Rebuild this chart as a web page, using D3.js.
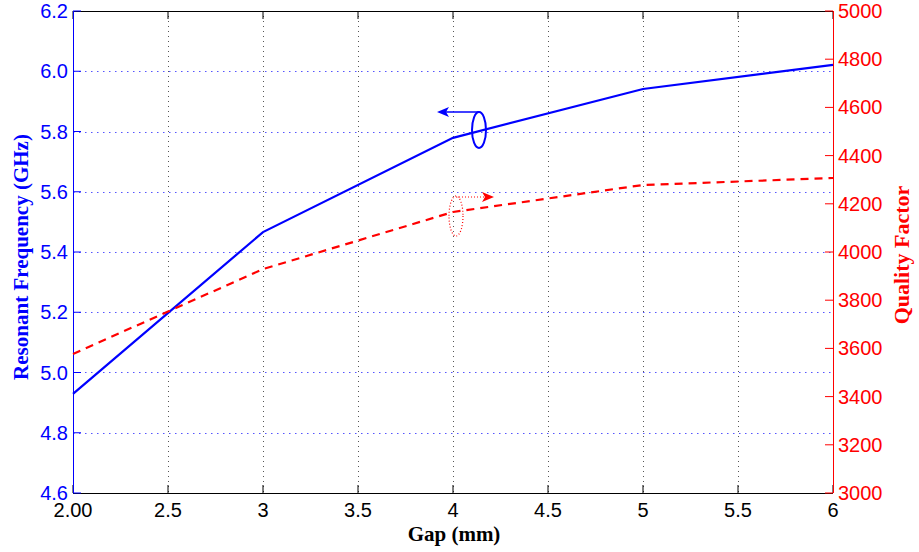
<!DOCTYPE html>
<html><head><meta charset="utf-8">
<script src="https://cdn.jsdelivr.net/npm/d3@7"></script>
<style>body{margin:0;background:#fff}svg{display:block}</style>
</head><body>
<svg id="c" width="919" height="552"></svg>
<script>
const gaps = [2, 3, 4, 5, 6];
const freq = [4.929, 5.466, 5.779, 5.941, 6.021];
const qf = [3577, 3929, 4166, 4278, 4307];
const xTicks = [2, 2.5, 3, 3.5, 4, 4.5, 5, 5.5, 6];
const xTickLabels = ["2.00", "2.5", "3", "3.5", "4", "4.5", "5", "5.5", "6"];
const yLeftTicks = [4.6, 4.8, 5.0, 5.2, 5.4, 5.6, 5.8, 6.0, 6.2];
const yRightTicks = [3000, 3200, 3400, 3600, 3800, 4000, 4200, 4400, 4600, 4800, 5000];

const L = 73, R = 833, T = 11, B = 493;
const svg = d3.select("#c");
const x = d3.scaleLinear().domain([2, 6]).range([L, R]);
const yl = d3.scaleLinear().domain([4.6, 6.2]).range([B, T]);
const yr = d3.scaleLinear().domain([3000, 5000]).range([B, T]);
const font = "Liberation Sans, Arial, sans-serif";
const serif = "Liberation Serif, Times New Roman, serif";

// grid
const g = svg.append("g");
g.selectAll(".vg").data(xTicks.slice(1, -1)).enter().append("line")
  .attr("x1", d => Math.round(x(d)) + 0.5).attr("x2", d => Math.round(x(d)) + 0.5).attr("y1", T).attr("y2", B)
  .attr("stroke", "#555").attr("stroke-width", 1).attr("stroke-dasharray", "1,4");
g.selectAll(".hg").data(yLeftTicks.slice(1, -1)).enter().append("line")
  .attr("x1", L).attr("x2", R).attr("y1", d => Math.round(yl(d)) + 0.5).attr("y2", d => Math.round(yl(d)) + 0.5)
  .attr("stroke", "#5555ff").attr("stroke-width", 1).attr("stroke-dasharray", "1.5,4.5");

// frame top/bottom
svg.append("line").attr("x1", L).attr("x2", R).attr("y1", T + 0.5).attr("y2", T + 0.5).attr("stroke", "#000");
svg.append("line").attr("x1", L).attr("x2", R).attr("y1", B + 0.5).attr("y2", B + 0.5).attr("stroke", "#000");

// x axis ticks
const xa = svg.append("g");
xa.selectAll("line.b").data(xTicks).enter().append("line")
  .attr("x1", d => x(d)).attr("x2", d => x(d)).attr("y1", B).attr("y2", B - 8).attr("stroke", "#000");
xa.selectAll("line.t").data(xTicks).enter().append("line")
  .attr("x1", d => x(d)).attr("x2", d => x(d)).attr("y1", T).attr("y2", T + 8).attr("stroke", "#000");
xa.selectAll("text").data(xTicks).enter().append("text")
  .attr("x", d => x(d)).attr("y", 517).attr("text-anchor", "middle")
  .attr("font-family", font).attr("font-size", 20).attr("fill", "#000")
  .text((d, i) => xTickLabels[i]);

// left axis
const la = svg.append("g");
la.append("line").attr("x1", L + 0.5).attr("x2", L + 0.5).attr("y1", T).attr("y2", B).attr("stroke", "#0000ff");
la.selectAll("line.t").data(yLeftTicks).enter().append("line")
  .attr("x1", L).attr("x2", L + 8).attr("y1", d => yl(d)).attr("y2", d => yl(d)).attr("stroke", "#0000ff");
la.selectAll("text").data(yLeftTicks).enter().append("text")
  .attr("x", 68).attr("y", d => yl(d) + 7).attr("text-anchor", "end")
  .attr("font-family", font).attr("font-size", 20).attr("fill", "#0000ff")
  .text(d => d.toFixed(1));

// right axis
const ra = svg.append("g");
ra.append("line").attr("x1", R + 0.5).attr("x2", R + 0.5).attr("y1", T).attr("y2", B).attr("stroke", "#ff0000");
ra.selectAll("line.t").data(yRightTicks).enter().append("line")
  .attr("x1", R).attr("x2", R - 8).attr("y1", d => yr(d)).attr("y2", d => yr(d)).attr("stroke", "#ff0000");
ra.selectAll("text").data(yRightTicks).enter().append("text")
  .attr("x", 838).attr("y", d => yr(d) + 7).attr("text-anchor", "start")
  .attr("font-family", font).attr("font-size", 20).attr("fill", "#ff0000")
  .text(d => d);

// lines
svg.append("path").datum(gaps.map((d, i) => [d, freq[i]]))
  .attr("d", d3.line().x(d => x(d[0])).y(d => yl(d[1])))
  .attr("fill", "none").attr("stroke", "#0000ff").attr("stroke-width", 2.2);
svg.append("path").datum(gaps.map((d, i) => [d, qf[i]]))
  .attr("d", d3.line().x(d => x(d[0])).y(d => yr(d[1])))
  .attr("fill", "none").attr("stroke", "#ff0000").attr("stroke-width", 2.2).attr("stroke-dasharray", "8,6");

// annotations
svg.append("ellipse").attr("cx", 479).attr("cy", 130).attr("rx", 7).attr("ry", 18)
  .attr("fill", "none").attr("stroke", "#0000ff").attr("stroke-width", 2);
svg.append("line").attr("x1", 479).attr("y1", 112).attr("x2", 445).attr("y2", 112)
  .attr("stroke", "#0000ff").attr("stroke-width", 1.5);
svg.append("path").attr("d", "M437,112 L449,107 L446,112 L449,117 Z").attr("fill", "#0000ff");

svg.append("ellipse").attr("cx", 456).attr("cy", 216).attr("rx", 7).attr("ry", 20)
  .attr("fill", "none").attr("stroke", "#ff0000").attr("stroke-width", 1.2).attr("stroke-dasharray", "1,2");
svg.append("line").attr("x1", 456).attr("y1", 197).attr("x2", 484).attr("y2", 197)
  .attr("stroke", "#ff0000").attr("stroke-width", 1.2).attr("stroke-dasharray", "1,2");
svg.append("path").attr("d", "M494,197 L482,192 L485,197 L482,202 Z").attr("fill", "#ff0000");

// axis titles
svg.append("text").attr("x", 454).attr("y", 541).attr("text-anchor", "middle")
  .attr("font-family", serif).attr("font-weight", "bold").attr("font-size", 21).attr("fill", "#000")
  .text("Gap (mm)");
svg.append("text").attr("transform", "translate(28,257) rotate(-90)").attr("text-anchor", "middle")
  .attr("font-family", serif).attr("font-weight", "bold").attr("font-size", 21).attr("fill", "#0000ff")
  .text("Resonant Frequency (GHz)");
svg.append("text").attr("transform", "translate(909,255) rotate(-90)").attr("text-anchor", "middle")
  .attr("font-family", serif).attr("font-weight", "bold").attr("font-size", 22).attr("fill", "#ff0000")
  .text("Quality Factor");
</script>
</body></html>
